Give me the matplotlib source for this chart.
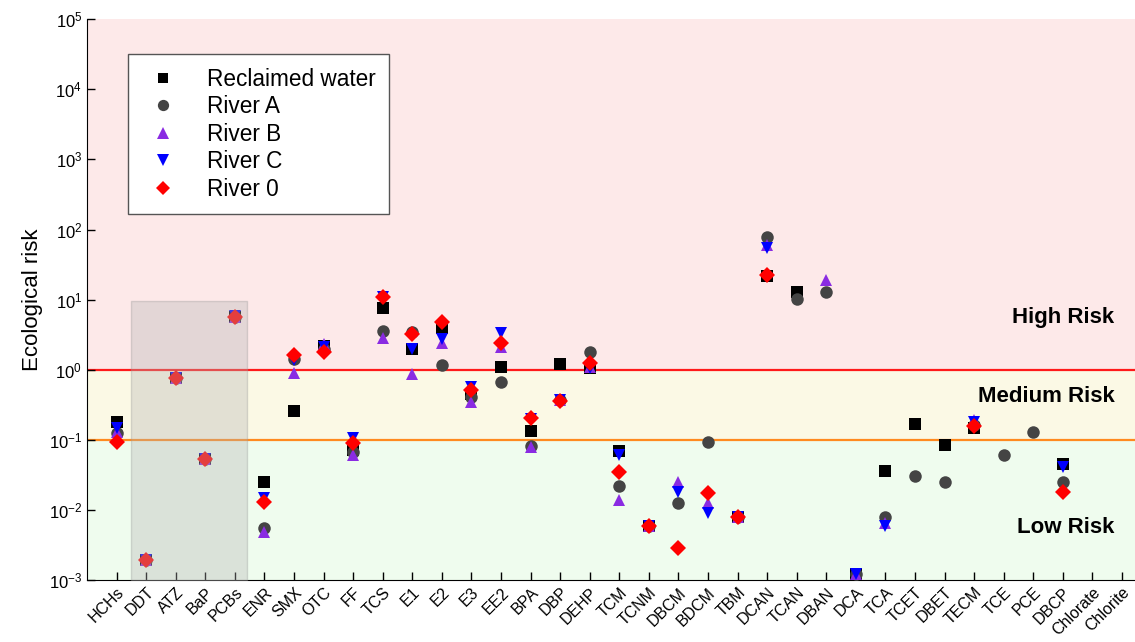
import numpy as np
import matplotlib.pyplot as plt

plt.rcParams['font.family'] = ['Liberation Sans', 'DejaVu Sans']

nan = np.nan
compounds = ['HCHs', 'DDT', 'ATZ', 'BaP', 'PCBs', 'ENR', 'SMX', 'OTC', 'FF', 'TCS',
             'E1', 'E2', 'E3', 'EE2', 'BPA', 'DBP', 'DEHP', 'TCM', 'TCNM', 'DBCM',
             'BDCM', 'TBM', 'DCAN', 'TCAN', 'DBAN', 'DCA', 'TCA', 'TCET', 'DBET', 'TECM',
             'TCE', 'PCE', 'DBCP', 'Chlorate', 'Chlorite']

reclaimed = [0.18, 0.0019, 0.75, 0.053, 5.6, 0.025, 0.26, 2.2, 0.072, 7.7,
             2.0, 3.9, 0.45, 1.1, 0.134, 1.22, 1.05, 0.07, 0.0058, nan,
             nan, 0.0078, 22.0, 13.0, nan, 0.0012, 0.036, 0.168, 0.084, 0.145,
             nan, nan, 0.045, nan, nan]
river_a = [0.124, 0.0019, 0.75, 0.053, 5.6, 0.0055, 1.4, 2.0, 0.068, 3.56,
           3.48, 1.17, 0.41, 0.675, 0.082, 0.37, 1.81, 0.022, 0.0058, 0.0127,
           0.092, 0.0078, 79.0, 10.2, 13.0, 0.0012, 0.0078, 0.0305, 0.0247, 0.16,
           0.061, 0.13, 0.0247, nan, nan]
river_b = [0.13, 0.0019, 0.75, 0.053, 5.6, 0.0048, 0.89, 2.3, 0.061, 2.8,
           0.86, 2.38, 0.35, 2.13, 0.079, 0.37, 1.1, 0.0138, 0.0058, 0.0252,
           0.0124, 0.0078, 60.0, nan, 19.0, 0.0012, 0.0065, nan, nan, 0.19,
           nan, nan, nan, nan, nan]
river_c = [0.146, 0.0019, 0.75, 0.053, 5.8, 0.015, 1.37, 2.1, 0.105, 11.0,
           1.95, 2.7, 0.57, 3.3, 0.2, 0.37, 1.05, 0.061, 0.0058, 0.018,
           0.0089, 0.0078, 55.0, nan, nan, 0.0012, 0.0059, nan, nan, 0.18,
           nan, nan, 0.0406, nan, nan]
river_0 = [0.092, 0.0019, 0.75, 0.053, 5.6, 0.0129, 1.62, 1.8, 0.089, 10.8,
           3.23, 4.84, 0.51, 2.38, 0.203, 0.36, 1.23, 0.0343, 0.0058, 0.0029,
           0.0173, 0.0078, 22.4, nan, nan, nan, nan, nan, nan, 0.157,
           nan, nan, 0.0178, nan, nan]

fig = plt.figure(figsize=(11.35, 6.42), dpi=100)
ax = fig.add_axes([0.0767, 0.0966, 0.93, 0.8734])
x = np.arange(len(compounds))

# risk bands
ax.axhspan(1, 1e5, color='#fde9e9', zorder=0)
ax.axhspan(0.1, 1, color='#fbf9e5', zorder=0)
ax.axhspan(1e-3, 0.1, color='#effcee', zorder=0)
ax.axhline(1, color='#ff1a1a', lw=1.6, zorder=1)
ax.axhline(0.1, color='#ff8a1f', lw=1.6, zorder=1)

series = [
    (reclaimed, 'Reclaimed water', 's', '#000000', 8),
    (river_a, 'River A', 'o', '#444444', 9),
    (river_b, 'River B', '^', '#8a2be2', 9),
    (river_c, 'River C', 'v', '#0000ff', 9),
    (river_0, 'River 0', 'D', '#ff0000', 8),
]
for vals, lab, mk, col, ms in series:
    ax.plot(x, vals, ls='none', marker=mk, color=col, markersize=ms,
            markeredgewidth=0, label=lab, zorder=3)

# grey highlight box
ax.fill_between([0.5, 4.4], 1e-3, 9.5, facecolor='#b4b4b4', alpha=0.35,
                edgecolor='#999999', lw=1, zorder=4)

ax.text(33.75, 5.5, 'High Risk', ha='right', va='center', fontsize=16, fontweight='bold')
ax.text(33.75, 0.42, 'Medium Risk', ha='right', va='center', fontsize=16, fontweight='bold')
ax.text(33.75, 0.0057, 'Low Risk', ha='right', va='center', fontsize=16, fontweight='bold')

ax.set_yscale('log')
ax.set_ylim(1e-3, 1e5)
ax.set_xlim(-1, 34.7)
ax.set_xticks(x)
ax.set_xticklabels(compounds, rotation=45, ha='right', rotation_mode='anchor', fontsize=11.5)
ax.set_yticks([10.0**k for k in range(-3, 6)])
ax.minorticks_off()
ax.tick_params(direction='in', length=6, width=1)
ax.tick_params(axis='y', labelsize=12)
ax.set_ylabel('Ecological risk', fontsize=16)
ax.spines['right'].set_visible(False)
ax.spines['top'].set_visible(False)

leg = ax.legend(loc='upper left', bbox_to_anchor=(0.028, 0.958), fontsize=16.3,
                frameon=True, fancybox=False, edgecolor='#555555', framealpha=1,
                handletextpad=1.0, labelspacing=0.2, borderpad=0.6, handlelength=1.9,
                markerscale=0.9)
leg.get_frame().set_linewidth(1)

fig.savefig('out.png', dpi=100)
